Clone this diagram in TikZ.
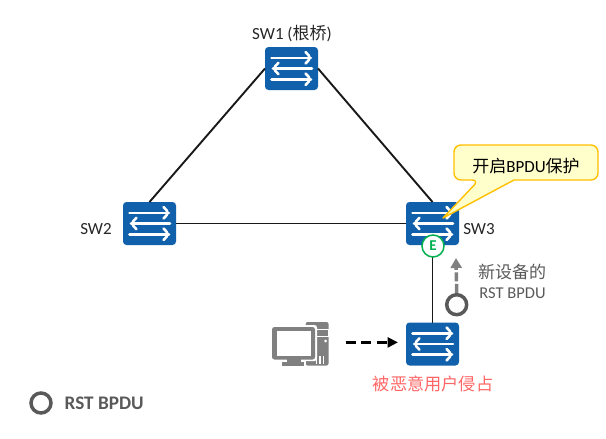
\documentclass[tikz,border=0pt]{standalone}
\usepackage{fontspec}
\setmainfont{Carlito}
\newfontfamily\cjkf{Noto Sans CJK SC}
\usetikzlibrary{arrows.meta}
\definecolor{swblue}{HTML}{1160AB}
\definecolor{pcgray}{HTML}{808080}
\definecolor{txtgray}{HTML}{595959}
\definecolor{calloutfill}{HTML}{FFFFCC}
\definecolor{calloutline}{HTML}{FFC000}
\definecolor{egreen}{HTML}{00B050}
\definecolor{redtxt}{HTML}{FF6666}
\tikzset{
  swbox/.style={draw=none,fill=swblue,rounded corners=3.5pt,minimum width=53pt,minimum height=43pt,inner sep=0pt,outer sep=0pt,
    path picture={
      \begin{scope}[shift={(path picture bounding box.center)},white,line width=2.6pt,line cap=round,line join=round,x=1pt,y=-1pt]
        \draw (-20,-10.7) -- (19.5,-10.7); \draw (14,-16.5) -- (19.5,-10.7) -- (14,-5);
        \draw (-18.5,0) -- (20.5,0); \draw (-13,-5.7) -- (-18.5,0) -- (-13,5.7);
        \draw (-20,10.7) -- (19.5,10.7); \draw (14,5) -- (19.5,10.7) -- (14,16.5);
      \end{scope}
    }},
  link/.style={draw=black!90,line width=1.9pt},
  tokenring/.style={circle,draw=txtgray,line width=3.5pt,fill=white,minimum size=20pt,inner sep=0pt},
  lbl/.style={inner sep=0pt,font=\fontsize{17}{20}\selectfont,text=black!85},
}
\begin{document}
\begin{tikzpicture}[x=1pt,y=-1pt]
\useasboundingbox (0,0) rectangle (606,439);
% switches
\node[swbox] (sw1) at (291.5,68.5) {};
\node[swbox] (sw2) at (149.5,223.5) {};
\node[swbox] (sw3) at (432.5,223.5) {};
\node[swbox] (sw4) at (432.5,344) {};
% links
\draw[link] (sw1.west) -- (sw2.north);
\draw[link] (sw1.east) -- (sw3.north);
\draw[link] (sw2.east) -- (sw3.west);
\draw[link] (sw3.south) -- (sw4.north);
% labels
\node[lbl] (l1) at (292,34) {SW1 ({\cjkf 根桥})};
\node[lbl] (l2) at (96,229) {SW2};
\node[lbl] (l3) at (479,229.5) {SW3};
% callout
\draw[calloutline,fill=calloutfill,line width=1.4pt,line join=round,rounded corners=7pt]
  (514,180) -- (598,180) -- (598,145) -- (454,145) -- (454,180) -- (479,180) [sharp corners] -- (443,218) -- cycle;
\node[lbl,text=black] (cal) at (526,166) {{\cjkf 开启}BPDU{\cjkf 保护}};
% E port
\node[circle,draw=egreen,fill=white,line width=1.5pt,minimum size=22pt,inner sep=0pt,text=egreen,font=\fontsize{15}{16}\selectfont\bfseries] (e) at (433,246) {E};
% grey arrow and token
\node[tokenring] (tok) at (456.7,304.7) {};
\coordinate (tip) at (456,258);
\draw[pcgray,line width=3.5pt,dash pattern=on 9pt off 2.5pt,-{Triangle[length=10pt,width=11pt]}] (tok.north) -- (tip);
\node[lbl,text=txtgray,font=\fontsize{17}{19}\selectfont\cjkf] (n1) at (512,272) {新设备的};
\node[lbl,text=txtgray,font=\fontsize{16.5}{18}\selectfont] (n2) at (512.5,293.5) {RST BPDU};
% PC
\begin{scope}[pcgray]
  \fill[rounded corners=2pt] (305.7,322) rectangle (328.5,365.5);
  \draw[white,line width=0.9pt] (316,329) rectangle (328.5,336);
  \fill[white] (325.7,341) circle (1.5pt);
  \foreach \xx in {316.5,320,323.5}{\draw[white,line width=1.1pt] (\xx,356) -- (\xx,364);}
  \fill[white,rounded corners=2.5pt] (270,325) rectangle (317,361);
  \fill[rounded corners=2.5pt] (272,327) rectangle (315,359.5);
  \fill[white] (277,331) rectangle (311,356);
  \fill (287,359) rectangle (301,363);
  \fill (282,362) rectangle (304,365.5);
  \fill[white] (304,361) rectangle (306,365.5);
\end{scope}
\coordinate (pcright) at (345.7,342.4);
\coordinate (pcend) at (398,342.4);
\draw[black,line width=2.7pt,dash pattern=on 10pt off 5.5pt,-{Triangle[length=10.5pt,width=10pt]}] (pcright) -- (pcend);
\node[lbl,text=redtxt,font=\fontsize{17.2}{19}\selectfont\cjkf] (r) at (433,383.5) {被恶意用户侵占};
% legend
\node[tokenring] (leg) at (41,403) {};
\node[lbl,text=txtgray,font=\fontsize{19.2}{20}\selectfont\bfseries,anchor=west] (legt) at (64.5,403) {RST BPDU};
\end{tikzpicture}
\end{document}
